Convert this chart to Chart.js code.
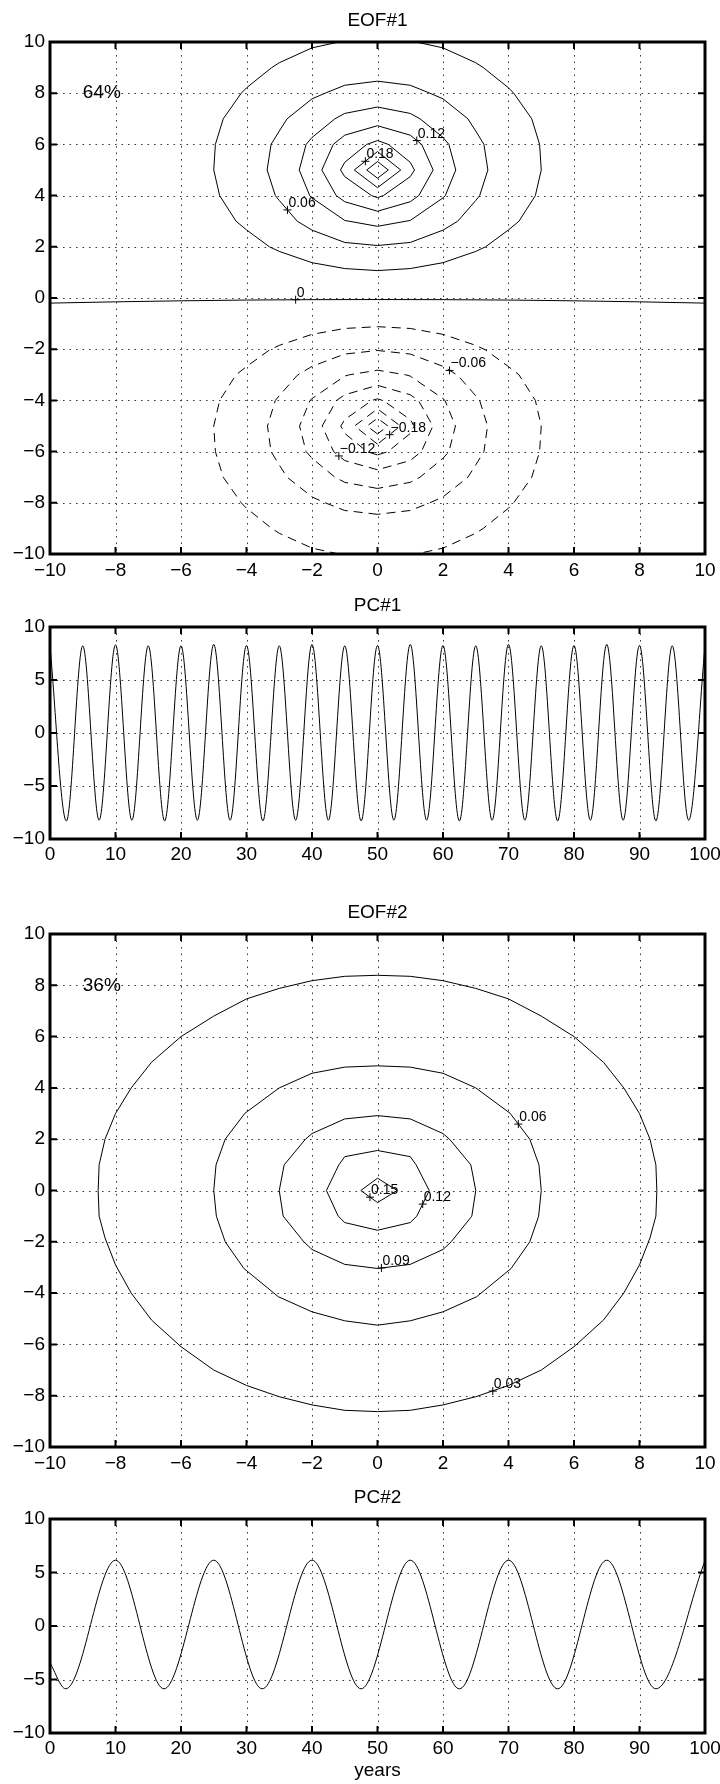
<!DOCTYPE html>
<html>
<head>
<meta charset="utf-8">
<script src="https://cdn.jsdelivr.net/npm/chart.js@4.4.1/dist/chart.umd.min.js"></script>
<style>
  html, body { margin: 0; padding: 0; background: #fff; }
  #wrap { position: relative; width: 720px; height: 1784px; background: #fff; }
  #wrap canvas { position: absolute; left: 0; }
</style>
</head>
<body>
<div id="wrap">
  <canvas id="eof1" width="720" height="590" style="top:0px;width:720px;height:590px"></canvas>
  <canvas id="pc1" width="720" height="290" style="top:590px;width:720px;height:290px"></canvas>
  <canvas id="eof2" width="720" height="600" style="top:880px;width:720px;height:600px"></canvas>
  <canvas id="pc2" width="720" height="304" style="top:1480px;width:720px;height:304px"></canvas>
</div>
<script>
// ---------- tick values ----------
const eofTicks = [-10, -8, -6, -4, -2, 0, 2, 4, 6, 8, 10];
const pcYearTicks = [0, 10, 20, 30, 40, 50, 60, 70, 80, 90, 100];
const pcValueTicks = [-10, -5, 0, 5, 10];

// ---------- EOF#1 contours (x, y) ----------
// positive lobe, solid lines: levels 0.03 ... 0.21
const eof1Pos003 = [[-1.18,10],[-2,9.77],[-3,9.19],[-3.23,9],[-4,8.21],[-4.16,8],[-4.71,7],[-4.95,6],[-5,5],[-4.82,4],[-4.32,3],[-4,2.66],[-3.3,2],[-3,1.82],[-2,1.38],[-1,1.15],[0,1.07],[1,1.15],[2,1.38],[3,1.82],[3.3,2],[4,2.66],[4.32,3],[4.82,4],[5,5],[4.95,6],[4.71,7],[4.16,8],[4,8.21],[3.23,9],[3,9.19],[2,9.77],[1.18,10]];
const eof1Pos006 = [[0,8.47],[-1,8.31],[-1.6,8],[-2,7.78],[-2.76,7],[-3,6.52],[-3.25,6],[-3.37,5],[-3.12,4],[-3,3.81],[-2.45,3],[-2,2.65],[-1,2.17],[0,2.05],[1,2.17],[2,2.65],[2.45,3],[3,3.81],[3.12,4],[3.37,5],[3.25,6],[3,6.52],[2.76,7],[2,7.78],[1.6,8],[1,8.31],[0,8.47]];
const eof1Pos009 = [[0,7.46],[-1,7.21],[-1.3,7],[-2,6.27],[-2.18,6],[-2.39,5],[-2.07,4],[-2,3.91],[-1,3.03],[-0.87,3],[0,2.8],[0.87,3],[1,3.03],[2,3.91],[2.07,4],[2.39,5],[2.18,6],[2,6.27],[1.3,7],[1,7.21],[0,7.46]];
const eof1Pos012 = [[0,6.73],[-1,6.36],[-1.35,6],[-1.7,5],[-1.26,4],[-1,3.76],[0,3.39],[1,3.76],[1.26,4],[1.7,5],[1.35,6],[1,6.36],[0,6.73]];
const eof1Pos015 = [[0,6.15],[-0.33,6],[-1,5.3],[-1.13,5],[-1,4.74],[-0.18,4],[0,3.92],[0.18,4],[1,4.74],[1.13,5],[1,5.3],[0.33,6],[0,6.15]];
const eof1Pos018 = [[0,5.72],[-0.71,5],[0,4.31],[0.71,5],[0,5.72]];
const eof1Pos021 = [[0,5.33],[-0.33,5],[0,4.68],[0.33,5],[0,5.33]];
// zero line
const eof1Zero = [[-10,-0.2],[-8,-0.15],[-6,-0.11],[-4,-0.08],[-2,-0.065],[0,-0.06],[2,-0.065],[4,-0.08],[6,-0.11],[8,-0.15],[10,-0.2]];
// negative lobe, dashed lines: levels -0.03 ... -0.21
const eof1Neg003 = [[-1.18,-10],[-2,-9.77],[-3,-9.19],[-3.23,-9],[-4,-8.21],[-4.16,-8],[-4.71,-7],[-4.95,-6],[-5,-5],[-4.82,-4],[-4.32,-3],[-4,-2.68],[-3.3,-2.03],[-3,-1.85],[-2,-1.42],[-1,-1.19],[0,-1.12],[1,-1.19],[2,-1.42],[3,-1.85],[3.3,-2.03],[4,-2.68],[4.32,-3],[4.82,-4],[5,-5],[4.95,-6],[4.71,-7],[4.16,-8],[4,-8.21],[3.23,-9],[3,-9.19],[2,-9.77],[1.18,-10]];
const eof1Neg006 = [[0,-8.45],[-1,-8.3],[-1.6,-8],[-2,-7.77],[-2.76,-7],[-3,-6.52],[-3.25,-6],[-3.36,-5],[-3.12,-4],[-3,-3.82],[-2.45,-3.02],[-2,-2.67],[-1,-2.19],[0,-2.05],[1,-2.19],[2,-2.67],[2.45,-3.02],[3,-3.82],[3.12,-4],[3.36,-5],[3.25,-6],[3,-6.52],[2.76,-7],[2,-7.77],[1.6,-8],[1,-8.3],[0,-8.45]];
const eof1Neg009 = [[0,-7.44],[-1,-7.2],[-1.3,-7],[-2,-6.26],[-2.18,-6],[-2.38,-5],[-2.06,-4],[-2,-3.93],[-1,-3.05],[-0.86,-3],[0,-2.82],[0.86,-3],[1,-3.05],[2,-3.93],[2.06,-4],[2.38,-5],[2.18,-6],[2,-6.26],[1.3,-7],[1,-7.2],[0,-7.44]];
const eof1Neg012 = [[0,-6.71],[-1,-6.35],[-1.34,-6],[-1.69,-5],[-1.25,-4],[-1,-3.78],[0,-3.41],[1,-3.78],[1.25,-4],[1.69,-5],[1.34,-6],[1,-6.35],[0,-6.71]];
const eof1Neg015 = [[0,-6.13],[-0.32,-6],[-1,-5.29],[-1.12,-5],[-1,-4.75],[-0.17,-4],[0,-3.94],[0.17,-4],[1,-4.75],[1.12,-5],[1,-5.29],[0.32,-6],[0,-6.13]];
const eof1Neg018 = [[0,-5.71],[-0.7,-5],[0,-4.33],[0.7,-5],[0,-5.71]];
const eof1Neg021 = [[0,-5.31],[-0.32,-5],[0,-4.7],[0.32,-5],[0,-5.31]];

// contour labels on EOF#1 (position of the "+" marker)
const eof1LabelText = ['0.12', '0.18', '0.06', '0', '\u22120.06', '\u22120.18', '\u22120.12'];
const eof1LabelX = [1.2, -0.37, -2.75, -2.5, 2.2, 0.37, -1.18];
const eof1LabelY = [6.15, 5.34, 3.44, -0.065, -2.83, -5.34, -6.17];

// ---------- EOF#2 contours ----------
const eof2Ring003 = [[0,8.39],[-1,8.35],[-2,8.18],[-3,7.88],[-4,7.47],[-5,6.8],[-6,6],[-6.9,5],[-7.52,4],[-8,3],[-8.32,2],[-8.5,1],[-8.53,0],[-8.5,-1],[-8.32,-1.85],[-8,-2.9],[-7.52,-4],[-6.9,-5.05],[-6,-6.09],[-5,-7],[-4,-7.6],[-3,-8.04],[-2,-8.36],[-1,-8.57],[0,-8.62],[1,-8.57],[2,-8.36],[3,-8.04],[4,-7.6],[5,-7],[6,-6.09],[6.9,-5.05],[7.52,-4],[8,-2.9],[8.32,-1.85],[8.5,-1],[8.53,0],[8.5,1],[8.32,2],[8,3],[7.52,4],[6.9,5],[6,6],[5,6.8],[4,7.47],[3,7.88],[2,8.18],[1,8.35],[0,8.39]];
const eof2Ring006 = [[0,4.86],[-1,4.81],[-2,4.57],[-3,4],[-4.05,3.01],[-4.65,2],[-4.93,1],[-5,0],[-4.92,-1],[-4.65,-2],[-4.08,-3.04],[-3.03,-4.14],[-2,-4.73],[-1,-5.08],[0,-5.25],[1,-5.08],[2,-4.73],[3.03,-4.14],[4.08,-3.04],[4.65,-2],[4.92,-1],[5,0],[4.93,1],[4.65,2],[4.05,3.01],[3,4],[2,4.57],[1,4.81],[0,4.86]];
const eof2Ring009 = [[0,2.92],[-1,2.79],[-2,2.22],[-2.2,2],[-2.85,1],[-3,0],[-2.88,-1],[-2.25,-2],[-2,-2.3],[-1,-2.88],[0,-3.04],[1,-2.88],[2,-2.3],[2.25,-2],[2.88,-1],[3,0],[2.85,1],[2.2,2],[2,2.22],[1,2.79],[0,2.92]];
const eof2Ring012 = [[0,1.56],[-1,1.32],[-1.18,1],[-1.56,0],[-1.2,-1],[-1,-1.25],[0,-1.55],[1,-1.25],[1.2,-1],[1.58,0],[1.18,1],[1,1.32],[0,1.56]];
const eof2Ring015 = [[0,0.48],[-0.51,0],[0,-0.47],[0.6,0],[0,0.48]];

const eof2LabelText = ['0.06', '0.15', '0.12', '0.09', '0.03'];
const eof2LabelX = [4.3, -0.23, 1.38, 0.12, 3.52];
const eof2LabelY = [2.59, -0.26, -0.53, -3.02, -7.82];

// explained variance notes
const varianceText = ['64%', '36%'];
const varianceAt = [-9, 8];

// ---------- principal component time series (extrema) ----------
const pc1Years = [0,2.5,5,7.5,10,12.5,15,17.5,20,22.5,25,27.5,30,32.5,35,37.5,40,42.5,45,47.5,50,52.5,55,57.5,60,62.5,65,67.5,70,72.5,75,77.5,80,82.5,85,87.5,90,92.5,95,97.5,100];
const pc1Values = [8.2,-8.3,8.23,-8.23,8.32,-8.23,8.23,-8.3,8.23,-8.23,8.36,-8.23,8.26,-8.3,8.23,-8.23,8.36,-8.23,8.23,-8.3,8.26,-8.23,8.36,-8.23,8.26,-8.3,8.23,-8.23,8.36,-8.23,8.23,-8.3,8.26,-8.23,8.36,-8.23,8.26,-8.3,8.23,-8.23,8.2];
const pc2Years = [0,2.4,10,17.4,25,32.4,40,47.5,55,62.5,70,77.5,85,92.5,100];
const pc2Values = [-3.45,-5.87,6.15,-5.87,6.15,-5.87,6.15,-5.87,6.15,-5.87,6.15,-5.87,6.15,-5.87,6.1];

// ---------- drawing helpers ----------
const FONT = "'Liberation Sans', Arial, Helvetica, sans-serif";
const fmtTick = v => String(v).replace('-', '\u2212');
const toXY = pts => pts.map(p => ({ x: p[0], y: p[1] }));

function contourSet(points, dashed) {
  return {
    data: toXY(points), showLine: true, fill: false, tension: 0,
    borderColor: '#000', borderWidth: 1, pointRadius: 0, pointHoverRadius: 0,
    borderDash: dashed ? [9, 6] : []
  };
}
function markerSet(xs, ys) {
  return {
    data: xs.map((x, i) => ({ x: x, y: ys[i] })), showLine: false,
    pointStyle: 'cross', pointRadius: 4, pointHoverRadius: 4,
    borderColor: '#000', backgroundColor: '#000', borderWidth: 1
  };
}
function seriesSet(xs, ys) {
  return {
    data: xs.map((x, i) => ({ x: x, y: ys[i] })), showLine: true, fill: false,
    cubicInterpolationMode: 'monotone', borderColor: '#000', borderWidth: 1,
    pointRadius: 0, pointHoverRadius: 0
  };
}

// dotted grid, box frame and inward ticks on all four sides
const boxPlugin = {
  id: 'boxPlugin',
  beforeDatasetsDraw(chart) {
    const { ctx, chartArea: a, scales: { x, y } } = chart;
    ctx.save();
    ctx.strokeStyle = '#3a3a3a';
    ctx.lineWidth = 1;
    ctx.setLineDash([1.6, 4.9]);
    x.ticks.forEach(t => {
      const px = Math.round(x.getPixelForValue(t.value)) + 0.5;
      if (px < a.left + 3 || px > a.right - 3) return;
      ctx.beginPath(); ctx.moveTo(px, a.top); ctx.lineTo(px, a.bottom); ctx.stroke();
    });
    y.ticks.forEach(t => {
      const py = Math.round(y.getPixelForValue(t.value)) + 0.5;
      if (py < a.top + 3 || py > a.bottom - 3) return;
      ctx.beginPath(); ctx.moveTo(a.left, py); ctx.lineTo(a.right, py); ctx.stroke();
    });
    ctx.restore();
  },
  afterDatasetsDraw(chart) {
    const { ctx, chartArea: a, scales: { x, y } } = chart;
    ctx.save();
    ctx.strokeStyle = '#000';
    ctx.setLineDash([]);
    ctx.lineWidth = 2;
    const tl = 7;
    x.ticks.forEach(t => {
      const px = x.getPixelForValue(t.value);
      ctx.beginPath();
      ctx.moveTo(px, a.top); ctx.lineTo(px, a.top + tl);
      ctx.moveTo(px, a.bottom); ctx.lineTo(px, a.bottom - tl);
      ctx.stroke();
    });
    y.ticks.forEach(t => {
      const py = y.getPixelForValue(t.value);
      ctx.beginPath();
      ctx.moveTo(a.left, py); ctx.lineTo(a.left + tl, py);
      ctx.moveTo(a.right, py); ctx.lineTo(a.right - tl, py);
      ctx.stroke();
    });
    ctx.lineWidth = 3;
    ctx.strokeRect(a.left, a.top, a.right - a.left, a.bottom - a.top);
    ctx.restore();
  }
};

// titles, axis caption, variance note and contour labels
function textPlugin(cfg) {
  return {
    id: 'text_' + cfg.id,
    afterDatasetsDraw(chart) {
      const { ctx, chartArea: a, scales: { x, y } } = chart;
      const cx = (a.left + a.right) / 2;
      ctx.save();
      ctx.fillStyle = '#000';
      ctx.font = '19px ' + FONT;
      ctx.textAlign = 'center';
      ctx.textBaseline = 'middle';
      ctx.fillText(cfg.title, cx, a.top - 21.5);
      if (cfg.xCaption) ctx.fillText(cfg.xCaption, cx, a.bottom + 38);
      if (cfg.note) {
        ctx.textAlign = 'left';
        ctx.fillText(cfg.note, x.getPixelForValue(varianceAt[0]), y.getPixelForValue(varianceAt[1]));
      }
      if (cfg.labelText) {
        ctx.font = '14px ' + FONT;
        ctx.textAlign = 'left';
        ctx.textBaseline = 'alphabetic';
        cfg.labelText.forEach((s, i) => {
          ctx.fillText(s, x.getPixelForValue(cfg.labelX[i]) + 1, y.getPixelForValue(cfg.labelY[i]) - 3);
        });
      }
      ctx.restore();
    }
  };
}

function axis(min, max, ticks, horizontal, size, pad) {
  return {
    type: 'linear', min: min, max: max,
    afterBuildTicks: s => { s.ticks = ticks.map(v => ({ value: v })); },
    afterFit: s => {
      if (horizontal) { s.height = size; s.paddingLeft = 0; s.paddingRight = 0; }
      else { s.width = size; s.paddingTop = 0; s.paddingBottom = 0; }
    },
    grid: { display: false, drawTicks: false },
    border: { display: false },
    ticks: {
      autoSkip: false, maxRotation: 0, minRotation: 0, padding: pad,
      color: '#000', font: { family: FONT, size: 19 },
      callback: v => fmtTick(v)
    }
  };
}

function build(cfg) {
  return new Chart(document.getElementById(cfg.id), {
    type: 'scatter',
    data: { datasets: cfg.datasets },
    options: {
      responsive: false, animation: false, devicePixelRatio: 1, events: [],
      layout: { padding: { top: cfg.padTop, right: 15, bottom: 0, left: 0 } },
      plugins: { legend: { display: false }, tooltip: { enabled: false }, title: { display: false } },
      scales: {
        x: axis(cfg.xRange[0], cfg.xRange[1], cfg.xTicks, true, cfg.xAxisHeight, cfg.xPad),
        y: axis(cfg.yRange[0], cfg.yRange[1], cfg.yTicks, false, 50, 5)
      }
    },
    plugins: [boxPlugin, textPlugin(cfg)]
  });
}

// ---------- the four panels ----------
build({
  id: 'eof1', title: 'EOF#1', note: varianceText[0],
  padTop: 42, xAxisHeight: 36, xPad: 5,
  xRange: [-10, 10], yRange: [-10, 10], xTicks: eofTicks, yTicks: eofTicks,
  labelText: eof1LabelText, labelX: eof1LabelX, labelY: eof1LabelY,
  datasets: [
    contourSet(eof1Pos003), contourSet(eof1Pos006), contourSet(eof1Pos009), contourSet(eof1Pos012),
    contourSet(eof1Pos015), contourSet(eof1Pos018), contourSet(eof1Pos021), contourSet(eof1Zero),
    contourSet(eof1Neg003, true), contourSet(eof1Neg006, true), contourSet(eof1Neg009, true),
    contourSet(eof1Neg012, true), contourSet(eof1Neg015, true), contourSet(eof1Neg018, true),
    contourSet(eof1Neg021, true),
    markerSet(eof1LabelX, eof1LabelY)
  ]
});

build({
  id: 'pc1', title: 'PC#1',
  padTop: 37, xAxisHeight: 41, xPad: 4,
  xRange: [0, 100], yRange: [-10, 10], xTicks: pcYearTicks, yTicks: pcValueTicks,
  datasets: [seriesSet(pc1Years, pc1Values)]
});

build({
  id: 'eof2', title: 'EOF#2', note: varianceText[1],
  padTop: 54, xAxisHeight: 33, xPad: 5,
  xRange: [-10, 10], yRange: [-10, 10], xTicks: eofTicks, yTicks: eofTicks,
  labelText: eof2LabelText, labelX: eof2LabelX, labelY: eof2LabelY,
  datasets: [
    contourSet(eof2Ring003), contourSet(eof2Ring006), contourSet(eof2Ring009),
    contourSet(eof2Ring012), contourSet(eof2Ring015),
    markerSet(eof2LabelX, eof2LabelY)
  ]
});

build({
  id: 'pc2', title: 'PC#2', xCaption: 'years',
  padTop: 39, xAxisHeight: 51, xPad: 4,
  xRange: [0, 100], yRange: [-10, 10], xTicks: pcYearTicks, yTicks: pcValueTicks,
  datasets: [seriesSet(pc2Years, pc2Values)]
});
</script>
</body>
</html>
